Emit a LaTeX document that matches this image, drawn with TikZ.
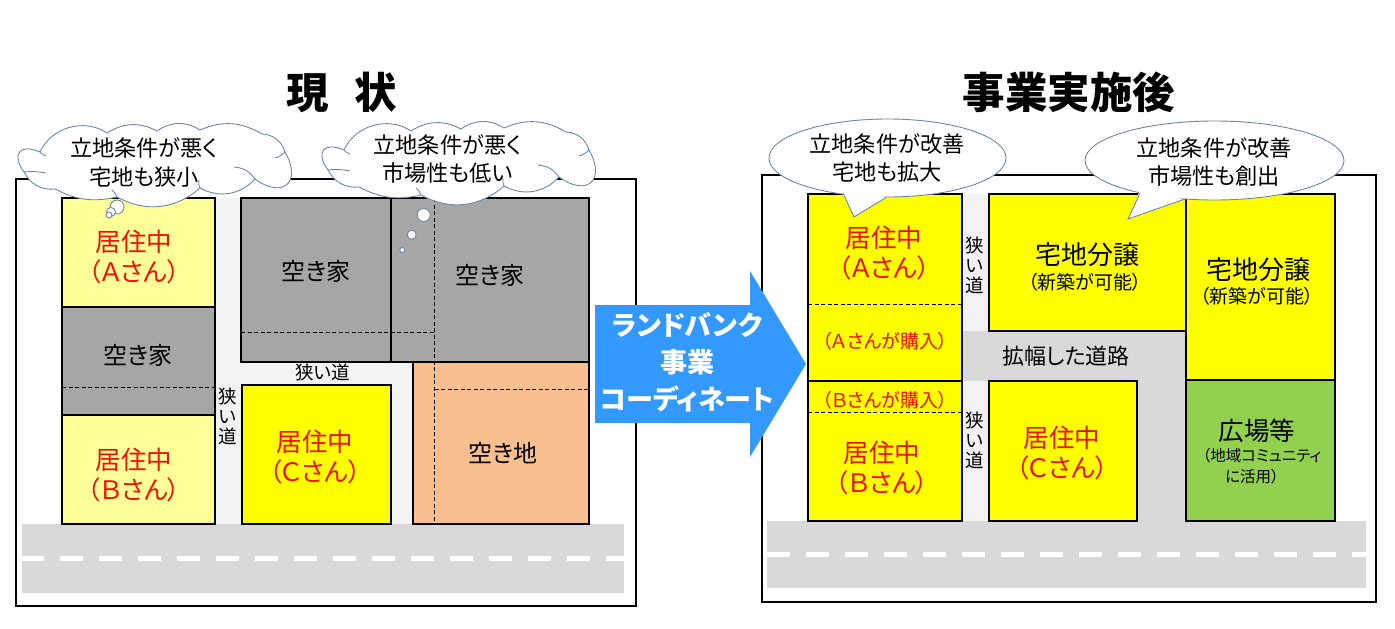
\documentclass[tikz,border=0pt]{standalone}
\usepackage{fontspec}
\setmainfont[RawFeature=+palt]{Noto Sans CJK JP}
\usetikzlibrary{positioning}
\definecolor{palelot}{HTML}{FFFF99}
\definecolor{fulllot}{HTML}{FFFF00}
\definecolor{houselot}{HTML}{A6A6A6}
\definecolor{vacantlot}{HTML}{FABF8F}
\definecolor{plazalot}{HTML}{92D050}
\definecolor{narrowroad}{HTML}{F2F2F2}
\definecolor{mainroad}{HTML}{D9D9D9}
\definecolor{balloonline}{HTML}{6F87A8}
\definecolor{arrowblue}{HTML}{3399FF}
\definecolor{redtext}{HTML}{F01000}
\newcommand{\fs}[2]{\fontsize{#1}{#2}\selectfont}
\tikzset{
  x=1pt,y=-1pt,
  frame/.style={draw=black,line width=1.7pt,fill=white},
  lot/.style={draw=black,line width=2.6pt,line join=miter},
  dashline/.style={draw=black,line width=.8pt,dash pattern=on 4pt off 2.5pt},
  txt/.style={inner sep=0pt,align=center,font=\fs{24}{31}},
  red txt/.style={txt,text=redtext,font=\fs{25.5}{30.5}},
  small/.style={txt,font=\fs{19}{20}},
  road txt/.style={txt,font=\fs{18.5}{20}},
  say/.style={txt,font=\fs{22.2}{28.5}},
  balloon/.style={draw=balloonline,line width=.9pt,fill=white},
  roaddash/.style={draw=white,line width=5pt,dash pattern=on 23pt off 16pt},
}
\newcommand{\cloudshape}[2]{%
  \begin{scope}[shift={(#1,#2)}]
    \draw[balloon] (40,152) to[bend left=50] (107,133) to[bend left=30] (157,131)
      to[bend left=34] (200,130) to[bend left=27] (262,134) to[bend left=35] (285,152)
      to[bend left=78,looseness=2.2] (255,179) to[bend left=38] (200,188)
      to[bend left=35] (117,197) to[bend left=20] (55,189)
      to[bend left=34] (24,172) to[bend left=75,looseness=2.2] (40,152) -- cycle;
    \draw[balloon,fill=none] (40,152) to[bend right=15] (46,156);
    \draw[balloon,fill=none] (24,172) to[bend left=8] (46,173);
    \draw[balloon,fill=none] (255,179) to[bend right=25] (234,167);
    \draw[balloon,fill=none] (285,152) to[bend left=15] (275,158);
    \draw[balloon,fill=none] (117,197) to[bend right=15] (112,190);
    \draw[balloon,fill=none] (200,188) to[bend left=20] (199,180);
  \end{scope}}
\begin{document}
\begin{tikzpicture}
\useasboundingbox (0,0) rectangle (1395,629);
\fill[white] (0,0) rectangle (1395,629);
% ---------- left panel
\node[inner sep=0pt,font=\bfseries\fs{42.5}{46}] (titleL) at (342,92) {現\hspace{.6em}状};
\draw[frame] (16,179) rectangle (636,606);
\fill[narrowroad] (215,198) rectangle (241,524);
\fill[narrowroad] (215,362) rectangle (413,385);
\fill[narrowroad] (391,362) rectangle (413,524);
\fill[mainroad] (22,524) rectangle (624,593);
\draw[roaddash] (21,558) -- (624,558);
\filldraw[lot,fill=palelot] (62,198) rectangle (215,307);
\filldraw[lot,fill=houselot] (62,307) rectangle (215,415);
\filldraw[lot,fill=palelot] (62,415) rectangle (215,524);
\filldraw[lot,fill=houselot] (241,198) rectangle (391,362);
\filldraw[lot,fill=houselot] (391,198) rectangle (589,362);
\filldraw[lot,fill=fulllot] (242,385) rectangle (391,524);
\filldraw[lot,fill=vacantlot] (413,362) rectangle (589,524);
\draw[dashline] (62,387) -- (215,387);
\draw[dashline] (241,332) -- (434.5,332);
\draw[dashline] (434.5,198) -- (434.5,524);
\draw[dashline] (434.5,389) -- (589,389);
\node[red txt] (aL) at (134,257) {居住中\\（Ａさん）};
\node[red txt] (bL) at (134,475) {居住中\\（Ｂさん）};
\node[red txt] (cL) at (315,457) {居住中\\（Ｃさん）};
\node[txt] (h1) at (138,355) {空き家};
\node[txt] (h2) at (316,271) {空き家};
\node[txt] (h3) at (490,275) {空き家};
\node[txt] (v1) at (503,453) {空き地};
\node[road txt] (rd1) at (323,372) {狭い道};
\node[road txt] (rd2) at (228,416) {狭\\い\\道};
\draw[balloon] (117,207) circle (7);
\draw[balloon] (111,212) circle (4.5);
\draw[balloon] (109,215) circle (3);
\draw[balloon] (423.7,215) circle (6.5);
\draw[balloon] (411.7,234.7) circle (4.5);
\draw[balloon] (402.3,250) circle (2.5);
\cloudshape{0}{0}
\cloudshape{304}{-2}
\node[say] (c1) at (144,162.5) {立地条件が悪く\\宅地も狭小};
\node[say] (c2) at (447.5,159) {立地条件が悪く\\市場性も低い};
% ---------- right panel
\node[inner sep=0pt,font=\bfseries\fs{42.5}{46}] (titleR) at (1069,92) {事業実施後};
\draw[frame] (762,175) rectangle (1376,602);
\fill[narrowroad] (962,194) rectangle (989,331);
\fill[mainroad] (962,331) rectangle (1186,381);
\fill[narrowroad] (962,381) rectangle (989,521);
\fill[mainroad] (1137,381) rectangle (1186,521);
\fill[mainroad] (767,521) rectangle (1366,588);
\draw[roaddash] (767,554) -- (1366,554);
\filldraw[lot,fill=fulllot] (808,194) rectangle (962,381);
\filldraw[lot,fill=fulllot] (808,381) rectangle (962,521);
\filldraw[lot,fill=fulllot] (989,194) rectangle (1186,331);
\filldraw[lot,fill=fulllot] (1186,194) rectangle (1335,380);
\filldraw[lot,fill=plazalot] (1186,380) rectangle (1335,521);
\filldraw[lot,fill=fulllot] (989,381) rectangle (1137,521);
\draw[dashline] (808,304) -- (962,304);
\draw[dashline] (808,412) -- (962,412);
\node[red txt] (aR) at (884,253) {居住中\\（Ａさん）};
\node[small,text=redtext] (aB) at (885,341) {（Ａさんが購入）};
\node[small,text=redtext] (bB) at (885,400) {（Ｂさんが購入）};
\node[red txt] (bR) at (882,468) {居住中\\（Ｂさん）};
\node[red txt] (cR) at (1062,453) {居住中\\（Ｃさん）};
\node[road txt] (rd3) at (975,265) {狭\\い\\道};
\node[road txt] (rd4) at (975,440) {狭\\い\\道};
\node[txt,font=\fs{22}{26}] (wide) at (1066,356) {拡幅した道路};
\node[txt,font=\fs{26}{30}] (t1) at (1087,255) {宅地分譲};
\node[small] (t1s) at (1085,282) {（新築が可能）};
\node[txt,font=\fs{26}{30}] (t2) at (1258,270) {宅地分譲};
\node[small] (t2s) at (1257,296) {（新築が可能）};
\node[txt,font=\fs{25.5}{30}] (p) at (1257,431) {広場等};
\node[txt,font=\fs{15.5}{20}] (ps1) at (1262,456) {（地域コミュニティ};
\node[txt,font=\fs{15.5}{20}] (ps2) at (1252,477) {に活用）};
% callouts
\draw[balloon] (887.5,158) ellipse [x radius=118.5,y radius=39];
\fill[white] (843,191) -- (854,217) -- (887,194) -- cycle;
\draw[balloon] (843,193) -- (854,217) -- (887,197);
\draw[balloon] (1214.5,160.5) ellipse [x radius=129.5,y radius=39.5];
\fill[white] (1140,190) -- (1128,219) -- (1185,196) -- cycle;
\draw[balloon] (1140,193) -- (1128,219) -- (1185,199);
\node[say] (c3) at (887,158) {立地条件が改善\\宅地も拡大};
\node[say] (c4) at (1214,162) {立地条件が改善\\市場性も創出};
% ---------- arrow
\fill[arrowblue] (595,305) -- (750,305) -- (750,271) -- (806,364) -- (750,457) -- (750,423) -- (595,423) -- cycle;
\node[inner sep=0pt,align=center,text=white,font=\bfseries\fs{27}{37}] (arrowtxt) at (687,362) {ランドバンク\\事業\\コーディネート};
\end{tikzpicture}
\end{document}
